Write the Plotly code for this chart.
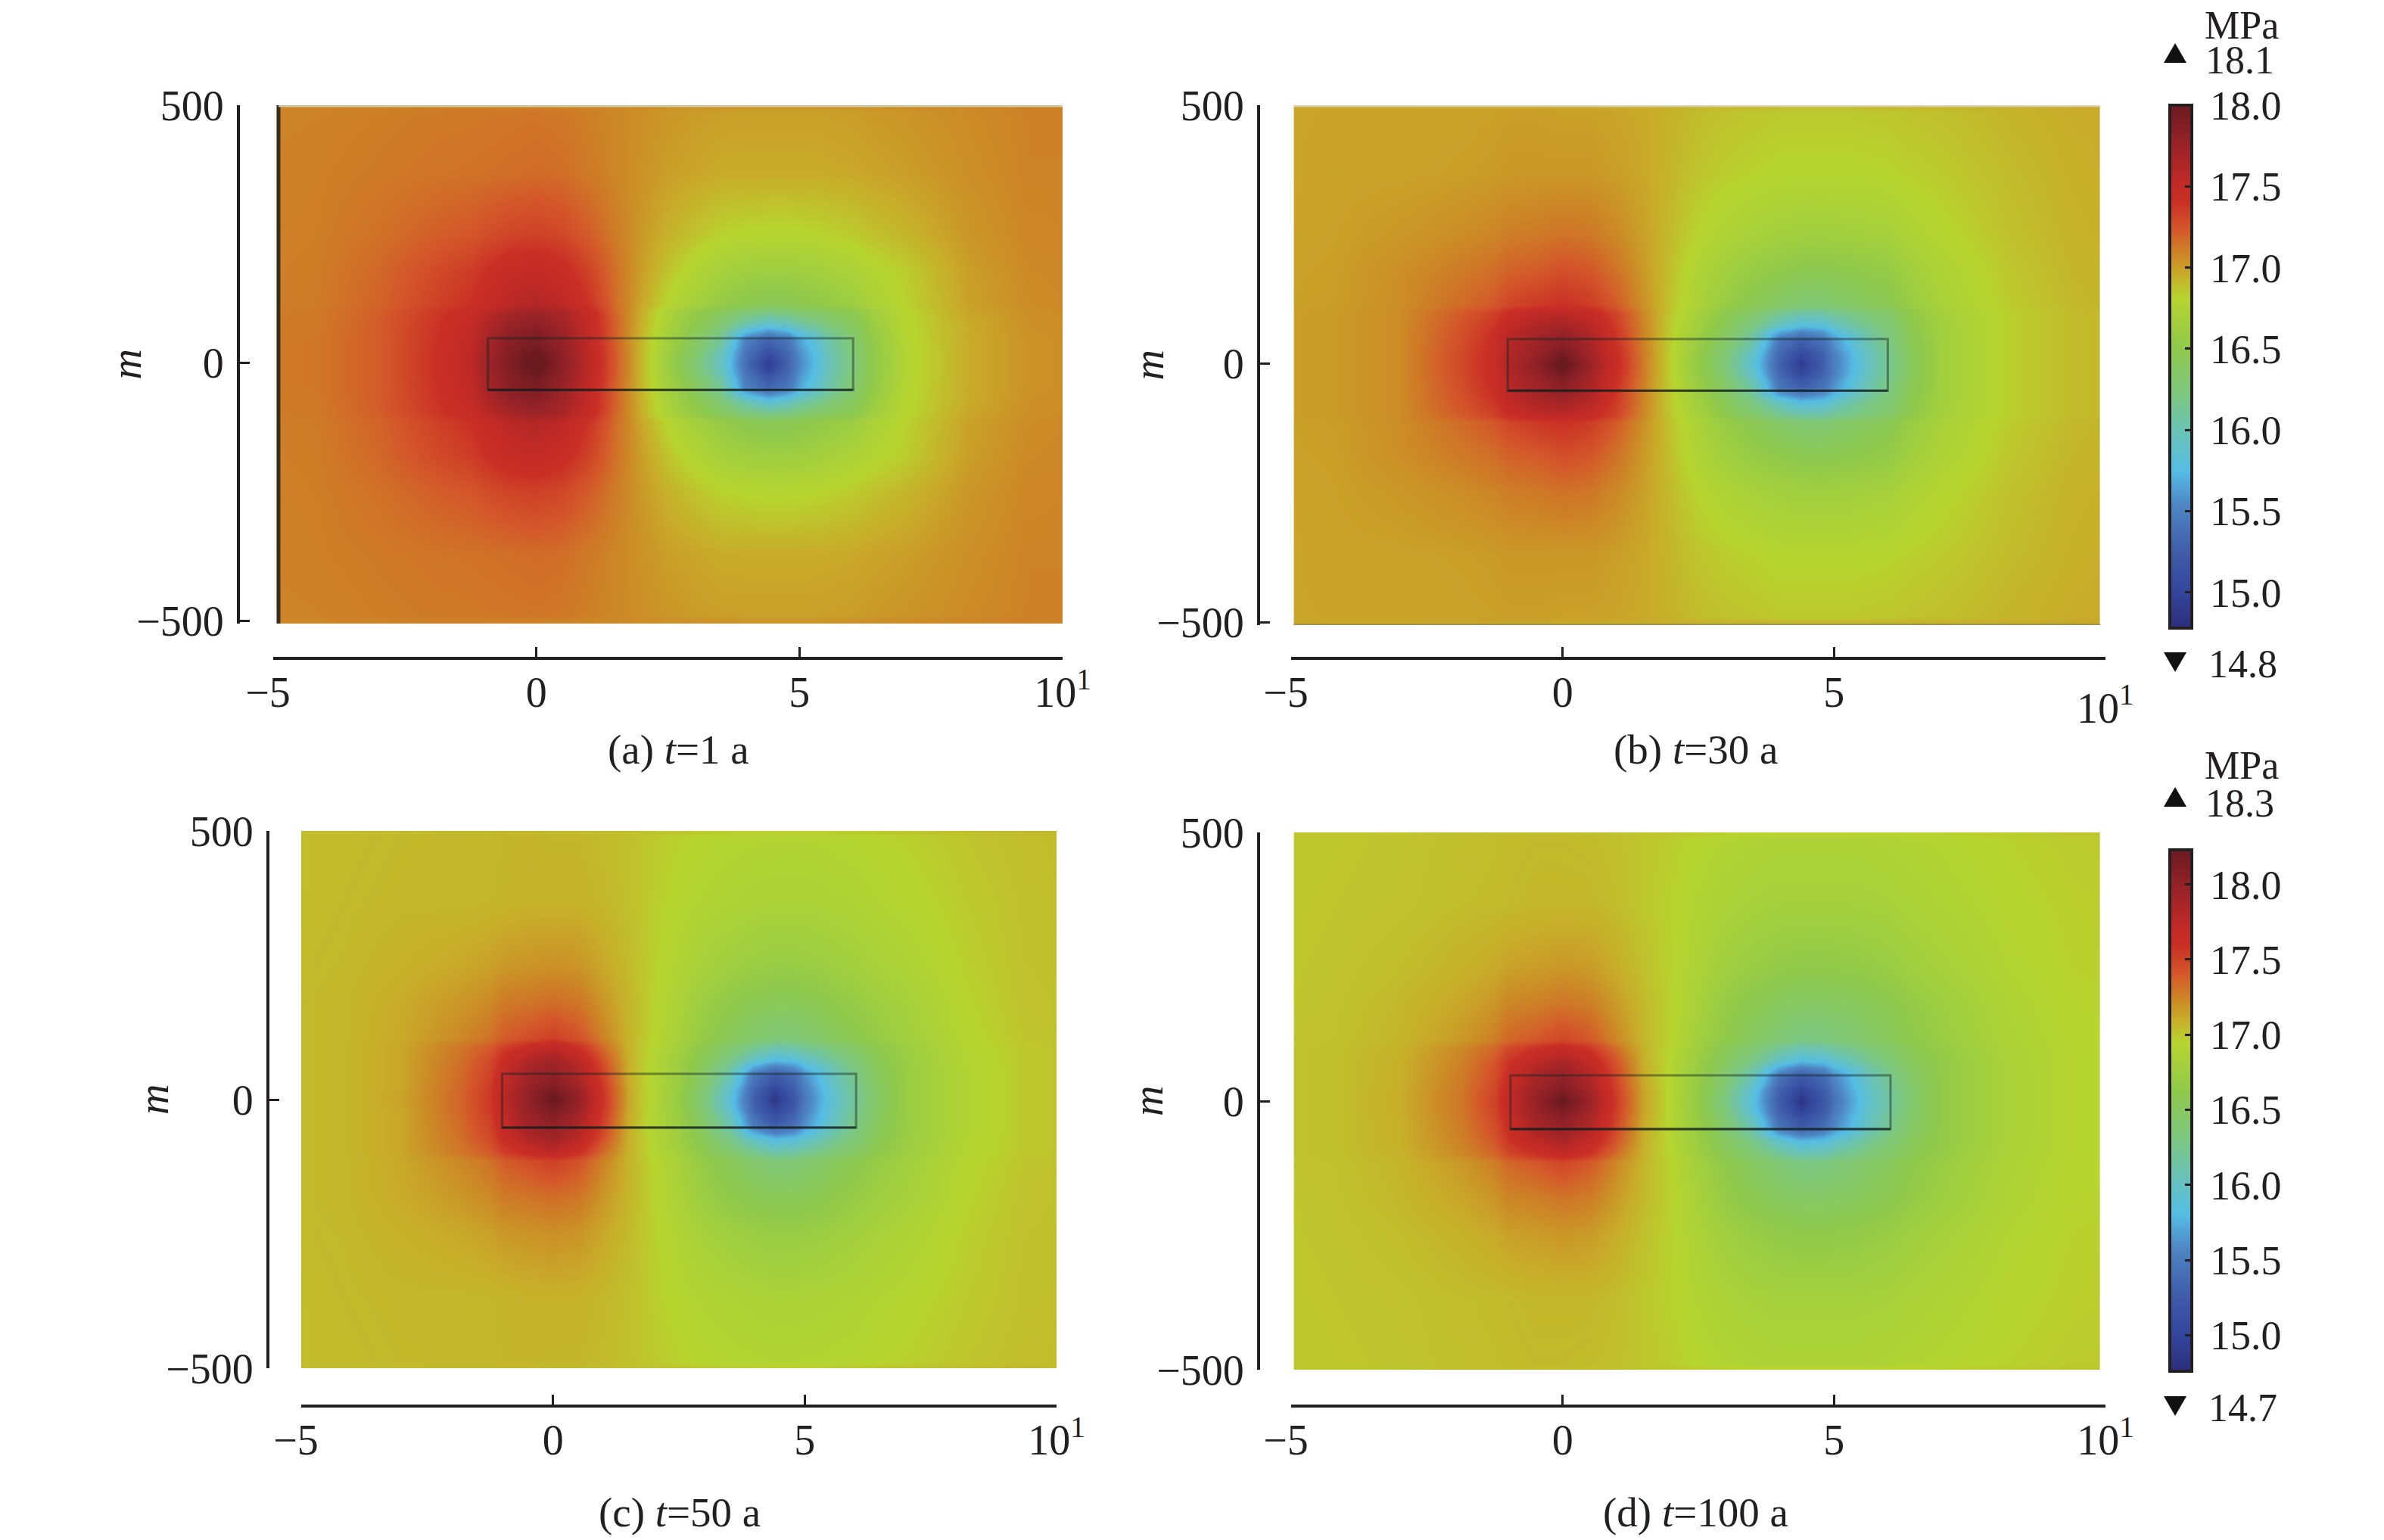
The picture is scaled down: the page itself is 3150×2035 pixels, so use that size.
import plotly.graph_objects as go

W, H = 3150, 2035
FONT = "Liberation Serif"
INK = "#231f20"

# colour stops of the two bars (fraction of the bar, colour)
cmap_pos = [0, 0.07, 0.147, 0.235, 0.30, 0.368, 0.447, 0.535, 0.63, 0.675, 0.71, 0.763, 0.816, 0.85, 0.94, 1]
cmap_col = ["#2c2d7c", "#33469b", "#3f5dab", "#4e86c4", "#55bde5", "#68c2bb", "#7dc880", "#8fc94c",
            "#b7d52f", "#c8ad2a", "#cc8a26", "#d4572a", "#ca2f25", "#c22a26", "#8f2127", "#6b1a20"]

bar1_range = [14.78, 18.0]
bar2_range = [14.76, 18.23]
bar1_ticks = [15.0, 15.5, 16.0, 16.5, 17.0, 17.5, 18.0]
bar2_ticks = [15.0, 15.5, 16.0, 16.5, 17.0, 17.5, 18.0]

x_ticks = [-5, 0, 5, 10]
x_labels = ["\u22125\u00a0", "0", "5", "10<sup>1</sup>"]
y_ticks = [-500, 0, 500]
y_labels = ["\u2212500", "0", "500"]

# cell edges of the grid, the ends change per panel
x_inner = [-4.8, -3.6, -2.4, -1.25, -0.75, -0.25, 0.25, 0.75, 1.25, 1.75, 2.25, 2.75, 3.25, 3.75, 4.2, 4.6, 5, 5.6, 6.4, 7.6, 8.8, 9.9]
y_inner = [-490, -248, -112, -88, -62, -30, -10, 10, 30, 62, 88, 112, 248, 490]

# stress, rows from y=-500 up to y=500
z_a = [
    [17.08, 17.08, 17.09, 17.10, 17.10, 17.10, 17.10, 17.09, 17.08, 17.07, 17.06, 17.05, 17.04, 17.04, 17.03, 17.03, 17.03, 17.03, 17.04, 17.06, 17.08, 17.10, 17.10],
    [17.09, 17.10, 17.12, 17.14, 17.15, 17.16, 17.17, 17.16, 17.12, 17.08, 17.04, 17.00, 16.98, 16.96, 16.96, 16.96, 16.96, 16.96, 16.97, 17.00, 17.05, 17.09, 17.09],
    [17.10, 17.11, 17.18, 17.30, 17.40, 17.48, 17.50, 17.45, 17.32, 17.15, 17.00, 16.87, 16.77, 16.68, 16.64, 16.62, 16.62, 16.65, 16.72, 16.84, 17.00, 17.07, 17.08],
    [17.11, 17.12, 17.21, 17.38, 17.54, 17.66, 17.72, 17.65, 17.47, 17.18, 16.95, 16.72, 16.56, 16.42, 16.28, 16.22, 16.26, 16.36, 16.48, 16.80, 16.98, 17.05, 17.07],
    [17.12, 17.12, 17.22, 17.40, 17.60, 17.76, 17.82, 17.70, 17.50, 17.20, 16.94, 16.70, 16.50, 16.30, 16.02, 15.85, 15.95, 16.15, 16.40, 16.79, 16.96, 17.05, 17.06],
    [17.12, 17.13, 17.22, 17.41, 17.65, 17.85, 17.92, 17.76, 17.52, 17.20, 16.92, 16.66, 16.42, 16.12, 15.50, 15.30, 15.45, 15.85, 16.30, 16.78, 16.96, 17.04, 17.06],
    [17.12, 17.13, 17.22, 17.42, 17.68, 17.87, 18.00, 17.80, 17.55, 17.22, 16.92, 16.62, 16.34, 15.98, 15.42, 15.10, 15.35, 15.78, 16.26, 16.77, 16.96, 17.04, 17.06],
    [17.12, 17.13, 17.22, 17.42, 17.70, 17.90, 18.08, 17.82, 17.56, 17.22, 16.92, 16.60, 16.30, 15.94, 15.38, 14.90, 15.32, 15.75, 16.25, 16.77, 16.96, 17.04, 17.06],
    [17.12, 17.13, 17.22, 17.42, 17.68, 17.87, 18.00, 17.80, 17.55, 17.22, 16.92, 16.62, 16.34, 15.98, 15.42, 15.10, 15.35, 15.78, 16.26, 16.77, 16.96, 17.04, 17.06],
    [17.12, 17.13, 17.22, 17.41, 17.65, 17.85, 17.92, 17.76, 17.52, 17.20, 16.92, 16.66, 16.42, 16.12, 15.50, 15.30, 15.45, 15.85, 16.30, 16.78, 16.96, 17.04, 17.06],
    [17.12, 17.12, 17.22, 17.40, 17.60, 17.76, 17.82, 17.70, 17.50, 17.20, 16.94, 16.70, 16.50, 16.30, 16.02, 15.85, 15.95, 16.15, 16.40, 16.79, 16.96, 17.05, 17.06],
    [17.11, 17.12, 17.21, 17.38, 17.54, 17.66, 17.72, 17.65, 17.47, 17.18, 16.95, 16.72, 16.56, 16.42, 16.28, 16.22, 16.26, 16.36, 16.48, 16.80, 16.98, 17.05, 17.07],
    [17.10, 17.11, 17.18, 17.30, 17.40, 17.48, 17.50, 17.45, 17.32, 17.15, 17.00, 16.87, 16.77, 16.68, 16.64, 16.62, 16.62, 16.65, 16.72, 16.84, 17.00, 17.07, 17.08],
    [17.09, 17.10, 17.12, 17.14, 17.15, 17.16, 17.17, 17.16, 17.12, 17.08, 17.04, 17.00, 16.98, 16.96, 16.96, 16.96, 16.96, 16.96, 16.97, 17.00, 17.05, 17.09, 17.09],
    [17.08, 17.08, 17.09, 17.10, 17.10, 17.10, 17.10, 17.09, 17.08, 17.07, 17.06, 17.05, 17.04, 17.04, 17.03, 17.03, 17.03, 17.03, 17.04, 17.06, 17.08, 17.10, 17.10],
]
z_b = [
    [16.98, 16.98, 16.98, 16.98, 16.98, 16.98, 16.97, 16.97, 16.96, 16.96, 16.95, 16.93, 16.92, 16.92, 16.91, 16.91, 16.91, 16.91, 16.92, 16.93, 16.95, 16.97, 16.97],
    [16.98, 16.99, 16.99, 17.00, 17.02, 17.02, 17.02, 17.02, 17.00, 16.97, 16.92, 16.87, 16.84, 16.82, 16.80, 16.80, 16.80, 16.80, 16.81, 16.85, 16.90, 16.94, 16.96],
    [16.99, 17.00, 17.05, 17.12, 17.20, 17.22, 17.27, 17.24, 17.14, 17.01, 16.88, 16.75, 16.65, 16.57, 16.52, 16.48, 16.47, 16.50, 16.55, 16.74, 16.86, 16.92, 16.94],
    [17.00, 17.01, 17.06, 17.23, 17.42, 17.52, 17.55, 17.48, 17.30, 17.06, 16.85, 16.68, 16.50, 16.34, 16.17, 16.07, 16.08, 16.20, 16.35, 16.67, 16.83, 16.90, 16.93],
    [17.00, 17.01, 17.06, 17.26, 17.50, 17.62, 17.68, 17.58, 17.34, 17.07, 16.84, 16.65, 16.44, 16.22, 15.95, 15.78, 15.82, 16.05, 16.28, 16.66, 16.83, 16.90, 16.93],
    [17.00, 17.01, 17.06, 17.28, 17.58, 17.70, 17.82, 17.66, 17.38, 17.08, 16.83, 16.60, 16.36, 16.05, 15.45, 15.28, 15.42, 15.80, 16.22, 16.65, 16.83, 16.90, 16.93],
    [17.00, 17.01, 17.06, 17.30, 17.60, 17.75, 17.95, 17.70, 17.42, 17.10, 16.82, 16.56, 16.28, 15.90, 15.35, 15.05, 15.30, 15.72, 16.16, 16.65, 16.83, 16.90, 16.93],
    [17.00, 17.01, 17.06, 17.30, 17.62, 17.80, 18.05, 17.75, 17.44, 17.10, 16.82, 16.55, 16.25, 15.85, 15.32, 14.90, 15.28, 15.70, 16.15, 16.65, 16.83, 16.90, 16.93],
    [17.00, 17.01, 17.06, 17.30, 17.60, 17.75, 17.95, 17.70, 17.42, 17.10, 16.82, 16.56, 16.28, 15.90, 15.35, 15.05, 15.30, 15.72, 16.16, 16.65, 16.83, 16.90, 16.93],
    [17.00, 17.01, 17.06, 17.28, 17.58, 17.70, 17.82, 17.66, 17.38, 17.08, 16.83, 16.60, 16.36, 16.05, 15.45, 15.28, 15.42, 15.80, 16.22, 16.65, 16.83, 16.90, 16.93],
    [17.00, 17.01, 17.06, 17.26, 17.50, 17.62, 17.68, 17.58, 17.34, 17.07, 16.84, 16.65, 16.44, 16.22, 15.95, 15.78, 15.82, 16.05, 16.28, 16.66, 16.83, 16.90, 16.93],
    [17.00, 17.01, 17.06, 17.23, 17.42, 17.52, 17.55, 17.48, 17.30, 17.06, 16.85, 16.68, 16.50, 16.34, 16.17, 16.07, 16.08, 16.20, 16.35, 16.67, 16.83, 16.90, 16.93],
    [16.99, 17.00, 17.05, 17.12, 17.20, 17.22, 17.27, 17.24, 17.14, 17.01, 16.88, 16.75, 16.65, 16.57, 16.52, 16.48, 16.47, 16.50, 16.55, 16.74, 16.86, 16.92, 16.94],
    [16.98, 16.99, 16.99, 17.00, 17.02, 17.02, 17.02, 17.02, 17.00, 16.97, 16.92, 16.87, 16.84, 16.82, 16.80, 16.80, 16.80, 16.80, 16.81, 16.85, 16.90, 16.94, 16.96],
    [16.98, 16.98, 16.98, 16.98, 16.98, 16.98, 16.97, 16.97, 16.96, 16.96, 16.95, 16.93, 16.92, 16.92, 16.91, 16.91, 16.91, 16.91, 16.92, 16.93, 16.95, 16.97, 16.97],
]
z_c = [
    [17.04, 17.04, 17.05, 17.06, 17.06, 17.06, 17.05, 17.05, 17.04, 17.03, 17.01, 17.00, 16.98, 16.97, 16.97, 16.97, 16.97, 16.97, 16.98, 17.00, 17.03, 17.05, 17.05],
    [17.04, 17.05, 17.06, 17.06, 17.07, 17.08, 17.08, 17.08, 17.06, 17.03, 16.98, 16.93, 16.90, 16.88, 16.86, 16.85, 16.85, 16.86, 16.88, 16.93, 16.99, 17.03, 17.04],
    [17.05, 17.06, 17.11, 17.18, 17.28, 17.30, 17.33, 17.30, 17.18, 17.07, 16.96, 16.85, 16.72, 16.63, 16.57, 16.54, 16.54, 16.58, 16.68, 16.80, 16.95, 17.02, 17.03],
    [17.05, 17.06, 17.13, 17.29, 17.50, 17.62, 17.72, 17.58, 17.32, 17.08, 16.93, 16.78, 16.60, 16.44, 16.27, 16.15, 16.18, 16.30, 16.48, 16.73, 16.92, 17.00, 17.02],
    [17.05, 17.06, 17.13, 17.32, 17.62, 17.80, 17.90, 17.75, 17.42, 17.09, 16.92, 16.75, 16.54, 16.30, 16.00, 15.82, 15.88, 16.08, 16.38, 16.71, 16.91, 17.00, 17.02],
    [17.05, 17.06, 17.13, 17.34, 17.68, 17.92, 18.02, 17.85, 17.50, 17.10, 16.90, 16.72, 16.46, 16.10, 15.48, 15.25, 15.40, 15.82, 16.28, 16.70, 16.90, 17.00, 17.02],
    [17.05, 17.06, 17.13, 17.36, 17.73, 17.98, 18.15, 17.95, 17.55, 17.12, 16.90, 16.70, 16.38, 15.95, 15.35, 15.00, 15.28, 15.75, 16.22, 16.70, 16.90, 17.00, 17.02],
    [17.05, 17.06, 17.14, 17.36, 17.75, 18.00, 18.25, 18.00, 17.57, 17.12, 16.90, 16.68, 16.35, 15.90, 15.30, 14.85, 15.22, 15.72, 16.20, 16.70, 16.90, 17.00, 17.02],
    [17.05, 17.06, 17.13, 17.36, 17.73, 17.98, 18.15, 17.95, 17.55, 17.12, 16.90, 16.70, 16.38, 15.95, 15.35, 15.00, 15.28, 15.75, 16.22, 16.70, 16.90, 17.00, 17.02],
    [17.05, 17.06, 17.13, 17.34, 17.68, 17.92, 18.02, 17.85, 17.50, 17.10, 16.90, 16.72, 16.46, 16.10, 15.48, 15.25, 15.40, 15.82, 16.28, 16.70, 16.90, 17.00, 17.02],
    [17.05, 17.06, 17.13, 17.32, 17.62, 17.80, 17.90, 17.75, 17.42, 17.09, 16.92, 16.75, 16.54, 16.30, 16.00, 15.82, 15.88, 16.08, 16.38, 16.71, 16.91, 17.00, 17.02],
    [17.05, 17.06, 17.13, 17.29, 17.50, 17.62, 17.72, 17.58, 17.32, 17.08, 16.93, 16.78, 16.60, 16.44, 16.27, 16.15, 16.18, 16.30, 16.48, 16.73, 16.92, 17.00, 17.02],
    [17.05, 17.06, 17.11, 17.18, 17.28, 17.30, 17.33, 17.30, 17.18, 17.07, 16.96, 16.85, 16.72, 16.63, 16.57, 16.54, 16.54, 16.58, 16.68, 16.80, 16.95, 17.02, 17.03],
    [17.04, 17.05, 17.06, 17.06, 17.07, 17.08, 17.08, 17.08, 17.06, 17.03, 16.98, 16.93, 16.90, 16.88, 16.86, 16.85, 16.85, 16.86, 16.88, 16.93, 16.99, 17.03, 17.04],
    [17.04, 17.04, 17.05, 17.06, 17.06, 17.06, 17.05, 17.05, 17.04, 17.03, 17.01, 17.00, 16.98, 16.97, 16.97, 16.97, 16.97, 16.97, 16.98, 17.00, 17.03, 17.05, 17.05],
]
z_d = [
    [17.00, 17.00, 17.01, 17.03, 17.04, 17.04, 17.04, 17.03, 17.02, 17.01, 17.00, 16.98, 16.96, 16.95, 16.94, 16.94, 16.94, 16.94, 16.95, 16.96, 16.98, 17.00, 17.00],
    [17.00, 17.01, 17.02, 17.04, 17.05, 17.06, 17.06, 17.06, 17.04, 17.00, 16.96, 16.90, 16.85, 16.82, 16.80, 16.80, 16.80, 16.80, 16.82, 16.88, 16.94, 16.97, 16.98],
    [17.01, 17.02, 17.06, 17.13, 17.24, 17.26, 17.30, 17.27, 17.16, 17.05, 16.96, 16.82, 16.68, 16.58, 16.51, 16.47, 16.47, 16.50, 16.58, 16.74, 16.88, 16.95, 16.96],
    [17.02, 17.03, 17.08, 17.23, 17.46, 17.57, 17.68, 17.55, 17.30, 17.07, 16.94, 16.75, 16.56, 16.40, 16.22, 16.10, 16.13, 16.26, 16.44, 16.68, 16.85, 16.93, 16.95],
    [17.02, 17.03, 17.09, 17.26, 17.56, 17.73, 17.85, 17.70, 17.40, 17.08, 16.93, 16.72, 16.50, 16.28, 15.98, 15.80, 15.85, 16.06, 16.36, 16.66, 16.85, 16.93, 16.95],
    [17.02, 17.03, 17.09, 17.28, 17.62, 17.87, 18.00, 17.82, 17.46, 17.10, 16.92, 16.69, 16.42, 16.06, 15.46, 15.22, 15.38, 15.78, 16.24, 16.65, 16.84, 16.93, 16.95],
    [17.02, 17.03, 17.10, 17.30, 17.68, 17.95, 18.12, 17.90, 17.50, 17.12, 16.92, 16.67, 16.34, 15.90, 15.32, 14.98, 15.25, 15.72, 16.18, 16.65, 16.84, 16.93, 16.95],
    [17.02, 17.03, 17.10, 17.30, 17.70, 17.97, 18.25, 17.95, 17.52, 17.12, 16.92, 16.66, 16.30, 15.86, 15.28, 14.82, 15.20, 15.68, 16.16, 16.65, 16.84, 16.93, 16.95],
    [17.02, 17.03, 17.10, 17.30, 17.68, 17.95, 18.12, 17.90, 17.50, 17.12, 16.92, 16.67, 16.34, 15.90, 15.32, 14.98, 15.25, 15.72, 16.18, 16.65, 16.84, 16.93, 16.95],
    [17.02, 17.03, 17.09, 17.28, 17.62, 17.87, 18.00, 17.82, 17.46, 17.10, 16.92, 16.69, 16.42, 16.06, 15.46, 15.22, 15.38, 15.78, 16.24, 16.65, 16.84, 16.93, 16.95],
    [17.02, 17.03, 17.09, 17.26, 17.56, 17.73, 17.85, 17.70, 17.40, 17.08, 16.93, 16.72, 16.50, 16.28, 15.98, 15.80, 15.85, 16.06, 16.36, 16.66, 16.85, 16.93, 16.95],
    [17.02, 17.03, 17.08, 17.23, 17.46, 17.57, 17.68, 17.55, 17.30, 17.07, 16.94, 16.75, 16.56, 16.40, 16.22, 16.10, 16.13, 16.26, 16.44, 16.68, 16.85, 16.93, 16.95],
    [17.01, 17.02, 17.06, 17.13, 17.24, 17.26, 17.30, 17.27, 17.16, 17.05, 16.96, 16.82, 16.68, 16.58, 16.51, 16.47, 16.47, 16.50, 16.58, 16.74, 16.88, 16.95, 16.96],
    [17.00, 17.01, 17.02, 17.04, 17.05, 17.06, 17.06, 17.06, 17.04, 17.00, 16.96, 16.90, 16.85, 16.82, 16.80, 16.80, 16.80, 16.80, 16.82, 16.88, 16.94, 16.97, 16.98],
    [17.00, 17.00, 17.01, 17.03, 17.04, 17.04, 17.04, 17.03, 17.02, 17.01, 17.00, 16.98, 16.96, 16.95, 16.94, 16.94, 16.94, 16.94, 16.95, 16.96, 16.98, 17.00, 17.00],
]

# fracture box on each panel
box_left = [-0.92, -1.01, -1.01, -0.96]
box_right = [6.02, 5.99, 6.02, 6.04]
box_y = [-52, 48]

captions = ["(a) <i>t</i>=1 a", "(b) <i>t</i>=30 a", "(c) <i>t</i>=50 a", "(d) <i>t</i>=100 a"]


def fx(px):
    return px / W


def fy(py):
    return 1 - py / H


# pixel layout of the four panels
panels = [
    dict(z=z_a, bar="coloraxis", x_left=-4.9, x_right=10, y_low=-505, y_px=(139, 824), x_px=(361, 1404),
         yline=315, xline=870, mx=167, cap=(896, 990)),
    dict(z=z_b, bar="coloraxis", x_left=-4.95, x_right=9.9, y_low=-505, y_px=(139, 826), x_px=(1706, 2782),
         yline=1663, xline=870, mx=1517, cap=(2240, 990)),
    dict(z=z_c, bar="coloraxis2", x_left=-5, x_right=10, y_low=-500, y_px=(1098, 1808), x_px=(398, 1396),
         yline=354, xline=1858, mx=203, cap=(898, 1998)),
    dict(z=z_d, bar="coloraxis2", x_left=-4.95, x_right=9.9, y_low=-500, y_px=(1100, 1810), x_px=(1706, 2782),
         yline=1663, xline=1858, mx=1517, cap=(2240, 1998)),
]

tickfont = dict(family=FONT, size=56, color=INK)
barfont = dict(family=FONT, size=54, color=INK)
fig = go.Figure()
layout = {}
shapes = []
notes = []


def note(text, px, py, size=55, xanchor="center", **kw):
    notes.append(dict(text=text, x=fx(px), y=fy(py), xref="paper", yref="paper", showarrow=False,
                      xanchor=xanchor, yanchor="middle", font=dict(family=FONT, size=size, color=INK), **kw))


for i, p in enumerate(panels):
    s = "" if i == 0 else str(i + 1)
    fig.add_trace(go.Heatmap(
        x=[p["x_left"]] + x_inner + [p["x_right"]],
        y=[p["y_low"]] + y_inner + [500],
        z=p["z"],
        zsmooth="best",
        coloraxis=p["bar"],
        xaxis="x" + s,
        yaxis="y" + s,
    ))
    labels = list(x_labels)
    if i == 1:
        labels[3] = " "
    layout["xaxis" + s] = dict(
        domain=[fx(p["x_px"][0]), fx(p["x_px"][1])], range=[-5, 10], anchor="free",
        position=fy(p["xline"]), side="bottom", tickmode="array", tickvals=x_ticks, ticktext=labels,
        ticks="inside", ticklen=13, tickwidth=3, tickcolor=INK, showline=True, linewidth=4, linecolor=INK,
        showgrid=False, zeroline=False, tickfont=tickfont, tickangle=0, ticklabelstandoff=-5,
    )
    layout["yaxis" + s] = dict(
        domain=[fy(p["y_px"][1]), fy(p["y_px"][0])], range=[p["y_low"], 500], anchor="free",
        position=fx(p["yline"]), side="left", tickmode="array", tickvals=y_ticks, ticktext=y_labels,
        ticks="inside", ticklen=13, tickwidth=3, tickcolor=INK, showline=True, linewidth=4, linecolor=INK,
        showgrid=False, zeroline=False, tickfont=tickfont, ticklabelstandoff=6,
    )
    # the box is faint on top and on the sides, darker along the bottom
    shapes.append(dict(type="rect", xref="x" + s, yref="y" + s, x0=box_left[i], x1=box_right[i], y0=box_y[0], y1=box_y[1],
                       line=dict(color="rgba(20,35,35,0.45)", width=3)))
    shapes.append(dict(type="line", xref="x" + s, yref="y" + s, x0=box_left[i], x1=box_right[i], y0=box_y[0], y1=box_y[0],
                       line=dict(color="rgba(15,25,25,0.65)", width=3)))
    note("<i>m</i>", p["mx"], (p["y_px"][0] + p["y_px"][1]) / 2, textangle=-90, size=56)
    note(captions[i], p["cap"][0], p["cap"][1])

# the 10^1 of panel (b) sits lower than its neighbours
note("10<sup>1</sup>", 2782, 932, size=56)

# edge lines left over on the raster of panels (a) and (b)
shapes.append(dict(type="line", xref="x", yref="y", x0=-4.9, x1=-4.9, y0=-505, y1=500, line=dict(color="#3a2c1e", width=5)))
shapes.append(dict(type="line", xref="x", yref="y", x0=-4.9, x1=10, y0=500, y1=500, line=dict(color="#cfc9a8", width=5)))
shapes.append(dict(type="line", xref="x2", yref="y2", x0=-4.95, x1=9.9, y0=500, y1=500, line=dict(color="#d6d3ad", width=5)))
shapes.append(dict(type="line", xref="x2", yref="y2", x0=-4.95, x1=9.9, y0=-505, y1=-505, line=dict(color="#a0954a", width=4)))


def triangle(cx, cy, up):
    tip = cy - 13 if up else cy + 13
    base = cy + 13 if up else cy - 13
    path = f"M {fx(cx - 15)} {fy(base)} L {fx(cx + 15)} {fy(base)} L {fx(cx)} {fy(tip)} Z"
    shapes.append(dict(type="path", xref="paper", yref="paper", path=path, fillcolor="#111111", line=dict(width=0)))


triangle(2874, 70, True)
triangle(2874, 875, False)
triangle(2874, 1053, True)
triangle(2874, 1858, False)

side_texts = [("MPa", 2911, 33), ("18.1", 2912, 80), ("14.8", 2916, 877),
              ("MPa", 2911, 1011), ("18.3", 2912, 1061), ("14.7", 2916, 1860)]
for text, px, py in side_texts:
    note(text, px, py, size=52, xanchor="left")


def colorbar(top, bottom, ticks):
    return dict(
        xref="paper", yref="paper", x=fx(2867), xanchor="left", xpad=0, ypad=0,
        y=fy(bottom), yanchor="bottom", thicknessmode="pixels", thickness=29,
        lenmode="pixels", len=bottom - top,
        outlinewidth=4, outlinecolor=INK, borderwidth=0,
        ticks="inside", ticklen=11, tickwidth=3, tickcolor=INK,
        tickmode="array", tickvals=ticks, ticktext=[f"\u2009{t:.1f}" for t in ticks],
        tickfont=barfont,
    )


scale = [[a, b] for a, b in zip(cmap_pos, cmap_col)]
fig.update_layout(
    width=W, height=H, margin=dict(l=0, r=0, t=0, b=0, pad=0, autoexpand=False),
    paper_bgcolor="white", plot_bgcolor="white", showlegend=False,
    font=dict(family=FONT, color=INK),
    shapes=shapes, annotations=notes,
    coloraxis=dict(colorscale=scale, cmin=bar1_range[0], cmax=bar1_range[1], colorbar=colorbar(139, 830, bar1_ticks)),
    coloraxis2=dict(colorscale=scale, cmin=bar2_range[0], cmax=bar2_range[1], colorbar=colorbar(1123, 1812, bar2_ticks)),
    **layout,
)

fig.write_html("out.html", config={"displayModeBar": False}, post_script="document.body.style.margin='0';")
